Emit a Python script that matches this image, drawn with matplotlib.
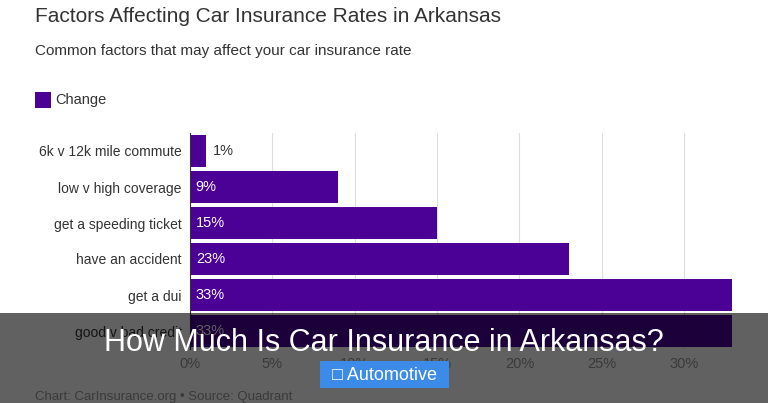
import matplotlib
matplotlib.use("Agg")
import matplotlib.pyplot as plt
from matplotlib.patches import Rectangle

plt.rcParams['font.family'] = ['Liberation Sans', 'DejaVu Sans']

categories = ["6k v 12k mile commute", "low v high coverage", "get a speeding ticket",
              "have an accident", "get a dui", "good v bad credit"]
values = [1, 9, 15, 23, 33, 33]
labels = ["1%", "9%", "15%", "23%", "33%", "33%"]
ticks = [0, 5, 10, 15, 20, 25, 30]

fig = plt.figure(figsize=(7.68, 4.03), dpi=100)
ax = fig.add_axes([190/768, 1-349/403, 542/768, 216/403])
y = list(range(len(categories)))
ax.barh(y, values, height=0.88, color="#4b0096")
ax.set_ylim(len(categories)-0.5, -0.5)
ax.set_xlim(0, 32.9)
ax.set_xticks(ticks)
ax.set_xticklabels([f"{t}%" for t in ticks], color="#999999", fontsize=10.5)
ax.set_yticks(y)
ax.set_yticklabels(categories, fontsize=10, color="#333333")
ax.tick_params(length=0, pad=6)
ax.grid(axis="x", color="#dddddd", lw=0.8)
ax.set_axisbelow(True)
for s in ["top", "right", "bottom"]:
    ax.spines[s].set_visible(False)
ax.spines["left"].set_color("#333333")
for i, (v, l) in enumerate(zip(values, labels)):
    if v < 3:
        ax.text(v + 0.4, i, l, va="center", ha="left", fontsize=10.5, color="#333333")
    else:
        ax.text(0.35, i, l, va="center", ha="left", fontsize=10.5, color="white")

fig.text(35/768, 1-16/403, "Factors Affecting Car Insurance Rates in Arkansas", fontsize=15, color="#333333", va="center")
fig.text(35/768, 1-51/403, "Common factors that may affect your car insurance rate", fontsize=11, color="#333333", va="center")
fig.patches.append(Rectangle((35/768, 1-108/403), 16/768, 16/403, transform=fig.transFigure, color="#4b0096", lw=0))
fig.text(55/768, 1-100/403, "Change", fontsize=10.5, color="#333333", va="center")
fig.text(35/768, 1-397/403, "Chart: CarInsurance.org • Source: Quadrant", fontsize=9.5, color="#999999", va="center")

# overlay banner
fig.patches.append(Rectangle((0, 0), 1, 90/403, transform=fig.transFigure, facecolor="black", lw=0, alpha=0.62, zorder=10))
fig.text(0.5, 1-343/403, "How Much Is Car Insurance in Arkansas?", fontsize=22, color="white",
         ha="center", va="center", zorder=11)
fig.patches.append(Rectangle((320/768, 1-388/403), 129/768, 27/403, transform=fig.transFigure,
                             facecolor="#3d8be8", lw=0, zorder=11))
fig.text(384.5/768, 1-375/403, "□ Automotive", fontsize=13, color="white", ha="center", va="center", zorder=12)

fig.savefig("out.png", dpi=100)
